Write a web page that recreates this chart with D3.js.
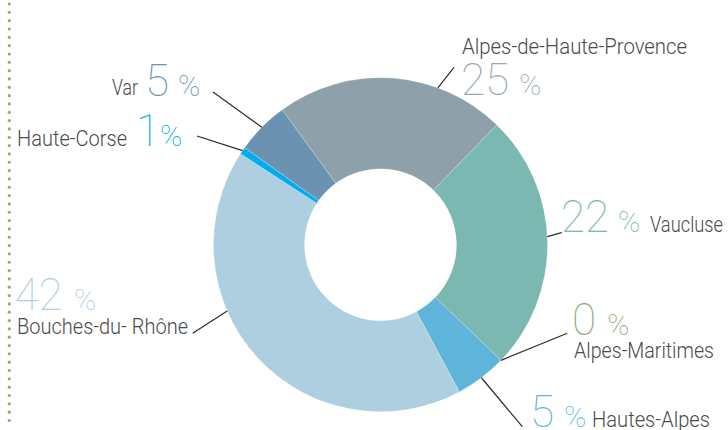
<!DOCTYPE html>
<html>
<head>
<meta charset="utf-8">
<script src="https://cdn.jsdelivr.net/npm/d3@7"></script>
<style>
  html, body { margin: 0; padding: 0; background: #fff; }
  svg { display: block; }
  .name { font-family: Roboto, "DejaVu Sans", sans-serif; font-weight: 300; fill: #4a4a4a; }
  .num { font-family: Roboto, "DejaVu Sans", sans-serif; font-weight: 100; }
</style>
</head>
<body>
<svg id="chart" width="728" height="430"></svg>
<script>
// ---- data ----
const regions = ["Alpes-de-Haute-Provence", "Vaucluse", "Alpes-Maritimes", "Hautes-Alpes", "Bouches-du- Rhône", "Haute-Corse", "Var"];
const shares = [22.3, 24.9, 0, 5.0, 42.0, 0.7, 5.1];          // slice sizes as drawn
const pctLabels = ["25", "22", "0", "5", "42", "1", "5"];       // printed percentages

// ---- styles / layout ----
const sliceColor = d3.scaleOrdinal(regions, ["#8ea1ab", "#7ab8b1", "#8aab72", "#5fb4da", "#aecfe0", "#00aeef", "#6b93b1"]);
const labelColor = d3.scaleOrdinal(regions, ["#94a9b4", "#7ab8b1", "#8aab72", "#5fb4da", "#aecfe0", "#00aeef", "#6b93b1"]);

const cx = 380.5, cy = 244.7, rOuter = 167, rInner = 76;
const startAngle = -36.1 * Math.PI / 180;

// per label layout: where the leader touches the slice (fraction of slice span),
// leader end point, and text placement (w = rendered width of the name)
const layout = {
  "Alpes-de-Haute-Provence": { frac: 0.70, end: [454, 67.3],
      name: { x: 462, y: 54, w: 225 }, num: { x: 461, y: 94.5 }, pct: { x: 519, y: 94.5 } },
  "Vaucluse": { frac: 0.48, end: [561.7, 232.7],
      name: { x: 650, y: 231.7, w: 73 }, num: { x: 561, y: 231.7 }, pct: { x: 618, y: 231.7 } },
  "Alpes-Maritimes": { frac: 0.5, end: [567.3, 333.3],
      name: { x: 574, y: 358.3, w: 140 }, num: { x: 572, y: 335 }, pct: { x: 607, y: 335 } },
  "Hautes-Alpes": { frac: 0.5, end: [522.3, 426.7],
      name: { x: 592, y: 426.5, w: 118 }, num: { x: 530, y: 426.5 }, pct: { x: 564, y: 426.5 } },
  "Bouches-du- Rhône": { frac: 0.627, end: [192.7, 333.3],
      name: { x: 17, y: 334.3, w: 171 }, num: { x: 14.5, y: 310 }, pct: { x: 74, y: 310 } },
  "Haute-Corse": { frac: 0.5, end: [197, 136],
      name: { x: 17, y: 146, w: 110 }, num: { x: 136, y: 146 }, pct: { x: 160, y: 146 } },
  "Var": { frac: 0.5, end: [213, 92],
      name: { x: 112, y: 95, w: 26 }, num: { x: 145, y: 95.7 }, pct: { x: 178, y: 95.7 } }
};

const svg = d3.select("#chart");

// dotted vertical rule at left
const dotYs = d3.range(4, 426, 8.33);
svg.append("g").selectAll("circle").data(dotYs).join("circle")
  .attr("cx", 9.3).attr("cy", d => d).attr("r", 1.6).attr("fill", "#8db06f");

const pie = d3.pie().sort(null).value(d => d.value)
  .startAngle(startAngle).endAngle(startAngle + 2 * Math.PI);
const arcs = pie(regions.map((r, i) => ({ region: r, value: shares[i], pct: pctLabels[i] })));
const arc = d3.arc().innerRadius(rInner).outerRadius(rOuter);

const g = svg.append("g").attr("transform", `translate(${cx},${cy})`);
g.selectAll("path").data(arcs.filter(a => a.data.value > 0)).join("path")
  .attr("d", arc)
  .attr("fill", d => sliceColor(d.data.region))
  .attr("stroke", "#ffffff").attr("stroke-opacity", 0.35).attr("stroke-width", 0.6);

// leader lines
svg.append("g").selectAll("line").data(arcs).join("line")
  .each(function (d) {
    const L = layout[d.data.region];
    const a = d.startAngle + (d.endAngle - d.startAngle) * L.frac;
    const x1 = cx + Math.sin(a) * rOuter, y1 = cy - Math.cos(a) * rOuter;
    d3.select(this).attr("x1", x1).attr("y1", y1).attr("x2", L.end[0]).attr("y2", L.end[1]);
  })
  .attr("stroke", "#2b2b2b").attr("stroke-width", 1.2);

// labels
const lab = svg.append("g");
arcs.forEach(d => {
  const L = layout[d.data.region];
  lab.append("text").attr("class", "name").attr("x", L.name.x).attr("y", L.name.y)
    .attr("font-size", 21.5)
    .attr("textLength", L.name.w).attr("lengthAdjust", "spacingAndGlyphs")
    .text(d.data.region);
  lab.append("text").attr("class", "num").attr("x", L.num.x).attr("y", L.num.y)
    .attr("font-size", 44).attr("fill", labelColor(d.data.region)).text(d.data.pct);
  lab.append("text").attr("class", "num").attr("x", L.pct.x).attr("y", L.pct.y)
    .attr("font-size", 30).attr("fill", labelColor(d.data.region)).text("%");
});
</script>
</body>
</html>
